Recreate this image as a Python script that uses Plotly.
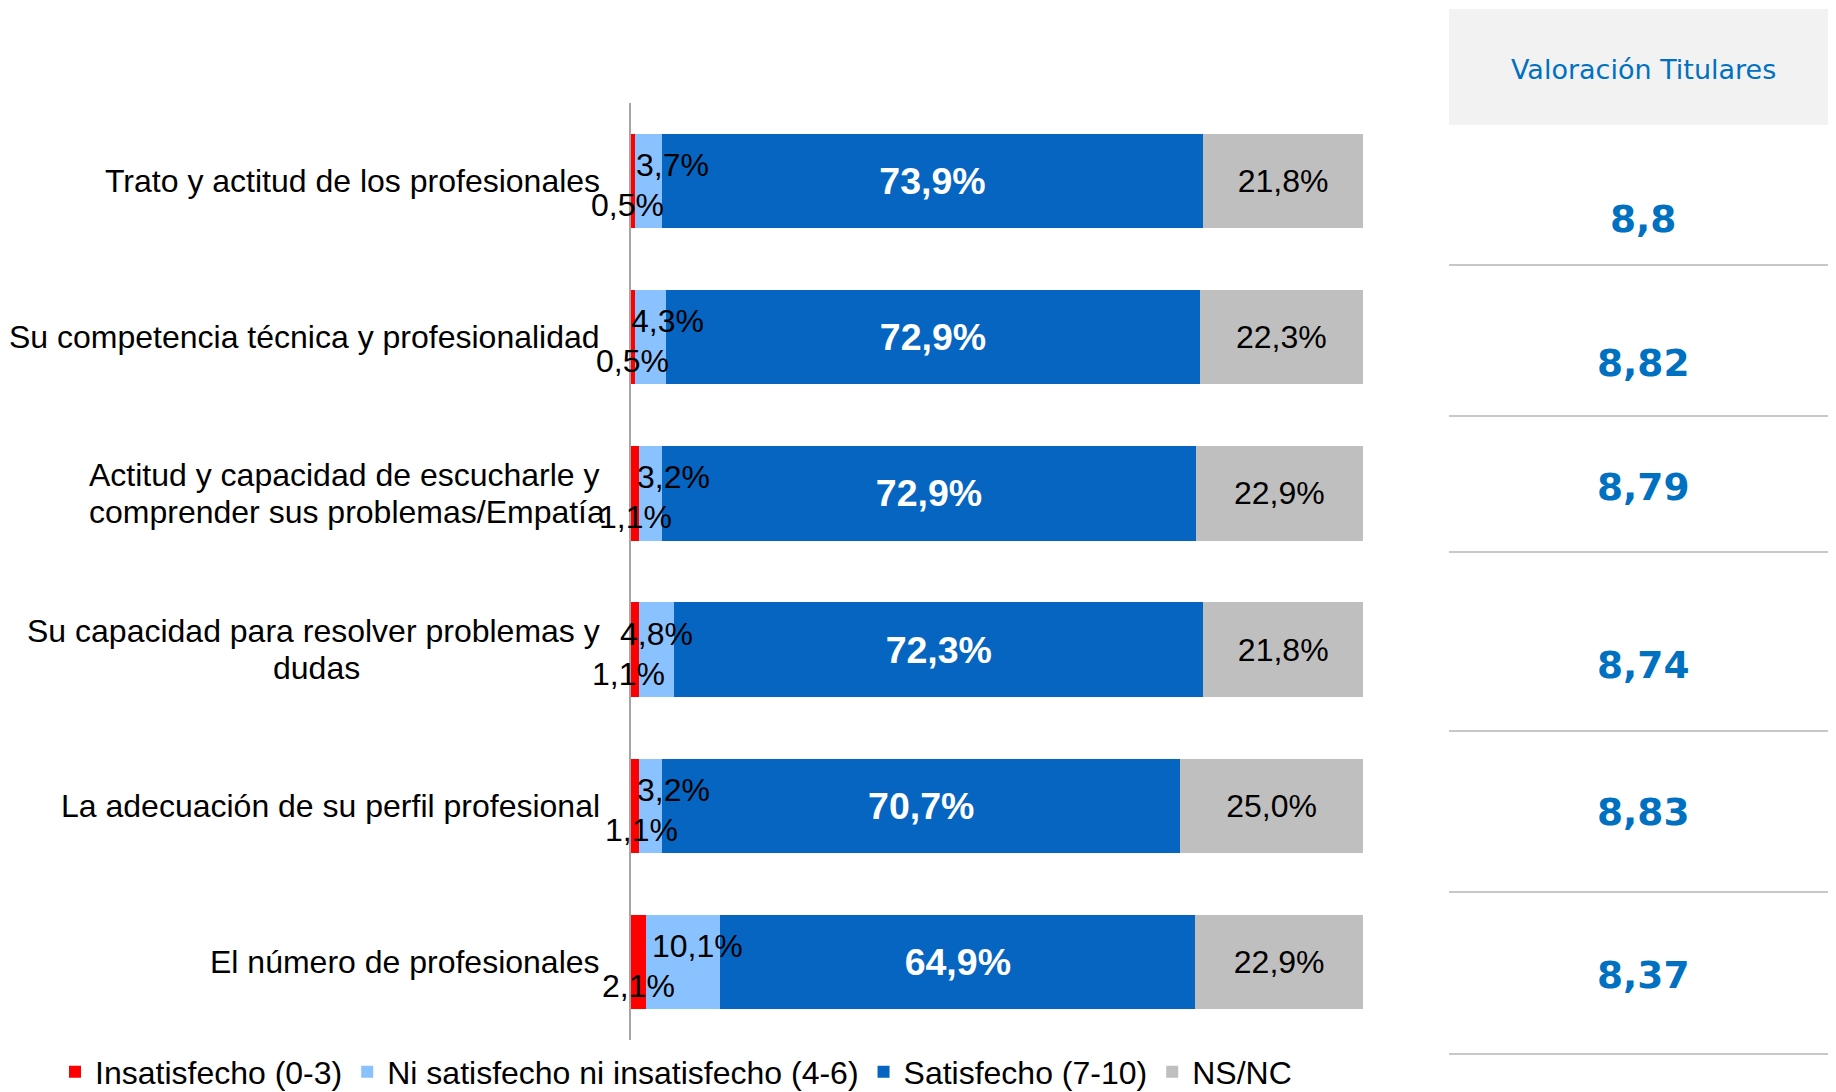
import plotly.graph_objects as go

# ---------------- data ----------------
categories = [
    "Trato y actitud de los profesionales",
    "Su competencia técnica y profesionalidad",
    "Actitud y capacidad de escucharle y<br>comprender sus problemas/Empatía",
    "Su capacidad para resolver problemas y<br>dudas",
    "La adecuación de su perfil profesional",
    "El número de profesionales",
]
insatisfecho = [0.5, 0.5, 1.1, 1.1, 1.1, 2.1]
ni_ni = [3.7, 4.3, 3.2, 4.8, 3.2, 10.1]
satisfecho = [73.9, 72.9, 72.9, 72.3, 70.7, 64.9]
nsnc = [21.8, 22.3, 22.9, 21.8, 25.0, 22.9]
valoracion = ["8,8", "8,82", "8,79", "8,74", "8,83", "8,37"]

series_names = ["Insatisfecho (0-3)", "Ni satisfecho ni insatisfecho (4-6)",
                "Satisfecho (7-10)", "NS/NC"]
colors = ["#FF0000", "#8AC2FF", "#0565C1", "#BFBFBF"]

# ---------------- layout geometry (window pixels) ----------------
OFF = 8                      # default page body margin
W, H = 1836 - OFF, 1092 - OFF
L, R, T, B = 631, 1363, 103, 1040   # plot area in window coordinates


def px(x):
    return (x - L) / (R - L)


def py(y):
    return (B - y) / (B - T)


def fmt(v):
    return f"{v:.1f}".replace(".", ",") + "%"


FONT = "Liberation Sans, Arial, sans-serif"
VFONT = "DejaVu Sans, Verdana, sans-serif"

fig = go.Figure()
all_series = [insatisfecho, ni_ni, satisfecho, nsnc]
for i, (name, vals, col) in enumerate(zip(series_names, all_series, colors)):
    kw = {}
    if i == 2:
        kw = dict(text=[fmt(v) for v in vals], textposition="inside",
                  insidetextanchor="middle", textangle=0,
                  textfont=dict(family=FONT, size=37.5, color="white", weight="bold"))
    elif i == 3:
        kw = dict(text=[fmt(v) for v in vals], textposition="inside",
                  insidetextanchor="middle", textangle=0,
                  textfont=dict(family=FONT, size=32, color="black"))
    fig.add_trace(go.Bar(
        y=categories, x=vals, name=name, orientation="h",
        marker=dict(color=col, line=dict(width=0)),
        hoverinfo="skip", **kw))

# approximate Liberation Sans advance widths (em) to centre 2-line labels
AW = {' ': .278, 'A': .667, 'E': .667, 'a': .556, 'b': .556, 'c': .5, 'd': .556, 'e': .556,
      'f': .278, 'h': .556, 'i': .222, 'í': .278, 'l': .222, 'm': .833, 'n': .556, 'o': .556,
      'p': .556, 'r': .333, 's': .5, 't': .278, 'u': .556, 'y': .5, '/': .278}


def tw(s, size=32):
    return sum(AW.get(ch, .556) for ch in s) * size


annotations = []
lb_dx = [24, 17, 23, 0, 23, 14]
red_dx = [-5, 0, 0, -7, 6, 0]
LINE_H = 37.5
for i, cat in enumerate(categories):
    tot = insatisfecho[i] + ni_ni[i] + satisfecho[i] + nsnc[i]
    r_mid = insatisfecho[i] / 2 / tot * 100
    b_mid = (insatisfecho[i] + ni_ni[i] / 2) / tot * 100
    annotations.append(dict(x=b_mid, y=cat, xref="x", yref="y", text=fmt(ni_ni[i]),
                            showarrow=False, xshift=lb_dx[i], yshift=16,
                            xanchor="center", yanchor="middle",
                            font=dict(family=FONT, size=32, color="black")))
    annotations.append(dict(x=r_mid, y=cat, xref="x", yref="y", text=fmt(insatisfecho[i]),
                            showarrow=False, xshift=red_dx[i], yshift=-24,
                            xanchor="center", yanchor="middle",
                            font=dict(family=FONT, size=32, color="black")))
    lines = cat.split("<br>")
    if len(lines) == 1:
        annotations.append(dict(x=0, y=cat, xref="paper", yref="y", text=cat,
                                showarrow=False, xanchor="right", yanchor="middle",
                                xshift=-29, font=dict(family=FONT, size=32, color="black")))
    else:
        annotations.append(dict(x=0, y=cat, xref="paper", yref="y", text=lines[0],
                                showarrow=False, xanchor="right", yanchor="middle",
                                xshift=-29, yshift=LINE_H / 2,
                                font=dict(family=FONT, size=32, color="black")))
        annotations.append(dict(x=0, y=cat, xref="paper", yref="y", text=lines[1],
                                showarrow=False, xanchor="center", yanchor="middle",
                                xshift=-29 - tw(lines[0]) / 2, yshift=-LINE_H / 2,
                                font=dict(family=FONT, size=32, color="black")))

# right panel
shapes = []
shapes.append(dict(type="rect", xref="paper", yref="paper",
                   x0=px(1449), x1=px(1836), y0=py(125), y1=py(9),
                   fillcolor="#F2F2F2", line=dict(width=0), layer="below"))
annotations.append(dict(x=px(1643), y=py(70), xref="paper", yref="paper",
                        xanchor="center", yanchor="middle",
                        text="Valoración Titulares", showarrow=False,
                        font=dict(family=VFONT, size=27, color="#0070C0")))
row_lines_y = [265, 416, 552, 731, 892, 1054]
row_value_y = [219, 363, 487, 665, 812, 975]
for yl in row_lines_y:
    shapes.append(dict(type="line", xref="paper", yref="paper",
                       x0=px(1449), x1=px(1836), y0=py(yl), y1=py(yl),
                       line=dict(color="#C8C8C8", width=2)))
for v, yv in zip(valoracion, row_value_y):
    annotations.append(dict(x=px(1643), y=py(yv), xref="paper", yref="paper",
                            xanchor="center", yanchor="middle",
                            text=f"<b>{v}</b>", showarrow=False,
                            font=dict(family=VFONT, size=37.5, color="#0070C0")))

fig.update_layout(
    width=W, height=H,
    margin=dict(l=L - OFF, r=W - (R - OFF), t=T - OFF, b=H - (B - OFF), pad=0,
                autoexpand=False),
    barmode="stack", barnorm="percent", bargap=0.395,
    paper_bgcolor="white", plot_bgcolor="white",
    showlegend=True,
    legend=dict(orientation="h", x=px(55), xanchor="left", y=py(1072), yanchor="middle",
                font=dict(family=FONT, size=32, color="black"),
                bgcolor="rgba(0,0,0,0)", traceorder="normal"),
    xaxis=dict(range=[0, 100], visible=False, fixedrange=True),
    yaxis=dict(categoryorder="array", categoryarray=categories, autorange="reversed",
               showticklabels=False, ticks="", showgrid=False, zeroline=False,
               showline=True, linecolor="#A6A6A6", linewidth=2, fixedrange=True),
    annotations=annotations, shapes=shapes,
)

fig.write_html("out.html")
